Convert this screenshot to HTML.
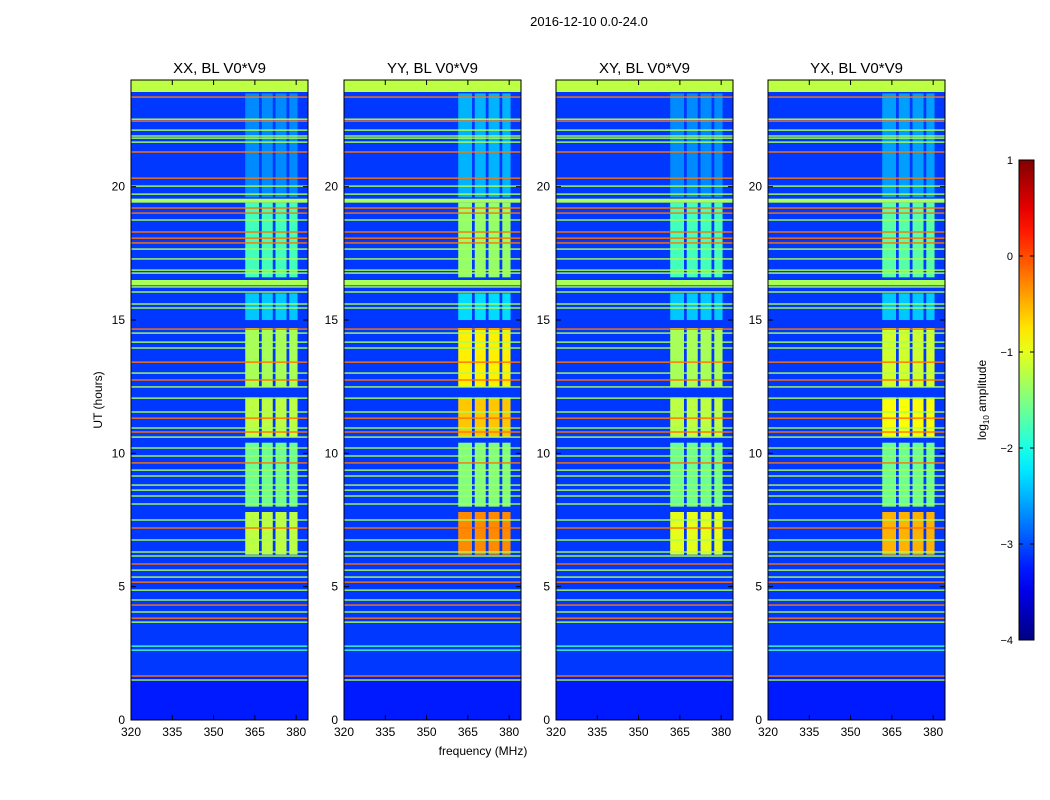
<!DOCTYPE html>
<html><head><meta charset="utf-8"><style>
body{margin:0;background:#fff;}
svg{display:block;font-family:"Liberation Sans",sans-serif;}
</style></head><body>
<svg id="fig" width="1050" height="800" xmlns="http://www.w3.org/2000/svg">
<text x="589" y="26" font-size="13" text-anchor="middle">2016-12-10 0.0-24.0</text>
<text x="483" y="755" font-size="12" text-anchor="middle">frequency (MHz)</text>
<text transform="translate(102,400) rotate(-90)" font-size="12" text-anchor="middle">UT (hours)</text>
<g id="panels"></g>
<g id="cbar"></g>
</svg>
<script>
const panelTitles = ["XX, BL V0*V9","YY, BL V0*V9","XY, BL V0*V9","YX, BL V0*V9"];
const xTicks = [320,335,350,365,380];
const yTicks = [0,5,10,15,20];
const cbTicks = [1,0,-1,-2,-3,-4];
// horizontal RFI lines: hour, log10 amplitude
const lineHours = [23.36,22.53,22.46,22.12,21.90,21.82,21.67,21.30,20.32,20.02,19.72,19.20,19.01,18.75,18.30,18.07,17.89,17.66,17.29,16.87,16.76,16.24,16.05,15.60,15.45,14.66,14.51,14.17,13.95,13.42,13.01,12.75,12.49,12.07,11.55,11.32,10.95,10.80,10.61,10.20,9.90,9.64,9.37,9.15,8.81,8.62,8.40,8.10,7.50,7.20,6.75,6.30,6.15,5.85,5.62,5.36,5.17,4.87,4.50,4.31,4.05,3.82,3.67,2.77,2.62,1.65,1.50];
const lineLevels = [-0.2,-1.3,-0.2,-1.3,-1.3,-1.3,-1.3,-0.2,-0.2,-1.3,-1.3,-0.2,-0.2,-1.3,-0.2,-0.2,-0.2,-1.3,-1.3,-1.3,-1.3,-1.3,-1.3,-1.3,-1.3,-0.2,-1.3,-1.3,-1.3,-0.2,-1.3,-0.2,-1.3,-1.3,-1.3,-0.2,-1.3,-0.2,-1.3,-1.3,-1.3,-0.2,-1.3,-1.3,-1.3,-1.3,-1.3,-1.3,-1.3,-0.2,-1.3,-1.3,-1.3,-0.2,-1.3,-1.3,-0.2,-1.3,-1.3,-0.2,-1.3,-0.2,-1.3,-1.8,-1.8,-0.2,-1.3];
// thick horizontal strips: start hour, end hour, level
const stripStart = [23.55,19.4,16.3,0];
const stripEnd = [24,19.55,16.5,1.6];
const stripLevels = [-1.2,-1.3,-1.3,-3.25];
// band columns (MHz)
const colStart = [361.5,367.5,372.5,377.5];
const colEnd = [366.5,371.5,376.5,380.5];
// band time ranges (hours)
const bandStart = [6.2,8.0,10.6,12.5,15.0,16.6,19.6];
const bandEnd = [7.8,10.4,12.1,14.7,16.0,19.4,23.5];
const bandLevels = [
  [-1.2,-1.6,-1.2,-1.3,-2.4,-1.8,-2.7],
  [-0.3,-1.5,-0.6,-0.8,-2.3,-1.4,-2.5],
  [-1.0,-1.6,-1.2,-1.3,-2.4,-1.8,-2.7],
  [-0.5,-1.6,-0.9,-1.1,-2.4,-1.7,-2.6]
];
const bgLevel = -3.1;

const NS="http://www.w3.org/2000/svg";
const panelX=[131,344,556,768], PW=177, PT=80, PB=720;
const fMin=320, fMax=384.3, hMin=0, hMax=24;
function jet(v){const t=Math.max(0,Math.min(1,(v+4)/5));const c=x=>Math.round(255*Math.max(0,Math.min(1,x)));
 return `rgb(${c(1.5-Math.abs(4*t-3))},${c(1.5-Math.abs(4*t-2))},${c(1.5-Math.abs(4*t-1))})`;}
function mk(tag,attrs,parent){const e=document.createElementNS(NS,tag);for(const k in attrs)e.setAttribute(k,attrs[k]);parent.appendChild(e);return e;}
function yS(h){return PB-(h-hMin)/(hMax-hMin)*(PB-PT);}
const panels=document.getElementById('panels');
panelTitles.forEach((title,p)=>{
  const x0=panelX[p];
  const xS=f=>x0+(f-fMin)/(fMax-fMin)*PW;
  const g=mk('g',{},panels);
  
  
  const clip=mk('clipPath',{id:'c'+p},g);mk('rect',{x:x0,y:PT,width:PW,height:PB-PT},clip);
  const hm=mk('g',{'clip-path':'url(#c'+p+')'},g);
  
  
  const bg=mk('rect',{x:x0,y:PT,width:PW,height:PB-PT,fill:jet(bgLevel)},hm);
  
  
  bandStart.forEach((b,i)=>{colStart.forEach((c,j)=>{
    const r=mk('rect',{x:xS(c),y:yS(bandEnd[i]),width:xS(colEnd[j])-xS(c),height:yS(b)-yS(bandEnd[i]),fill:jet(bandLevels[p][i])},hm);
    
    
  });});
  stripStart.forEach((s,i)=>{
    const r=mk('rect',{x:x0,y:yS(stripEnd[i]),width:PW,height:yS(s)-yS(stripEnd[i]),fill:jet(stripLevels[i])},hm);
    
    
  });
  lineHours.forEach((h,i)=>{
    const r=mk('rect',{x:x0,y:yS(h)-0.7,width:PW,height:1.4,fill:jet(lineLevels[i])},hm);
    
    
  });
  mk('rect',{x:x0,y:PT,width:PW,height:PB-PT,fill:'none',stroke:'#000','stroke-width':1},g);
  const t=mk('text',{x:x0+PW/2,y:73,'font-size':15,'text-anchor':'middle'},g);t.textContent=title;
  
  
  xTicks.forEach(f=>{const x=xS(f);
    mk('line',{x1:x,x2:x,y1:PB,y2:PB-5,stroke:'#000'},g);mk('line',{x1:x,x2:x,y1:PT,y2:PT+5,stroke:'#000'},g);
    const l=mk('text',{x:x,y:PB+16,'font-size':12,'text-anchor':'middle'},g);l.textContent=f;
    
    });
  yTicks.forEach(h=>{const y=yS(h);
    mk('line',{x1:x0,x2:x0+5,y1:y,y2:y,stroke:'#000'},g);mk('line',{x1:x0+PW,x2:x0+PW-5,y1:y,y2:y,stroke:'#000'},g);
    const l=mk('text',{x:x0-6,y:y+4,'font-size':12,'text-anchor':'end'},g);l.textContent=h;
    
    });
});
// colorbar
const cb=document.getElementById('cbar');


const CX=1019,CW=15,CT=160,CB=640;
const defs=mk('defs',{},cb);const gr=mk('linearGradient',{id:'jg',x1:0,y1:1,x2:0,y2:0},defs);
for(let i=0;i<=20;i++){mk('stop',{offset:i/20,'stop-color':jet(-4+5*i/20)},gr);}
mk('rect',{x:CX,y:CT,width:CW,height:CB-CT,fill:'url(#jg)',stroke:'#000','stroke-width':1},cb);
cbTicks.forEach(v=>{const y=CB-(v+4)/5*(CB-CT);
  mk('line',{x1:CX,x2:CX+4,y1:y,y2:y,stroke:'#000'},cb);mk('line',{x1:CX+CW,x2:CX+CW-4,y1:y,y2:y,stroke:'#000'},cb);
  const l=mk('text',{x:1013,y:y+4,'font-size':11,'text-anchor':'end'},cb);l.textContent=v<0?'\u2212'+(-v):v;
  
  });
const cl=mk('text',{transform:'translate(986,400) rotate(-90)','font-size':12,'text-anchor':'middle'},cb);
cl.innerHTML='log<tspan font-size="8" dy="3">10</tspan><tspan dy="-3"> amplitude</tspan>';


</script>
</body></html>
